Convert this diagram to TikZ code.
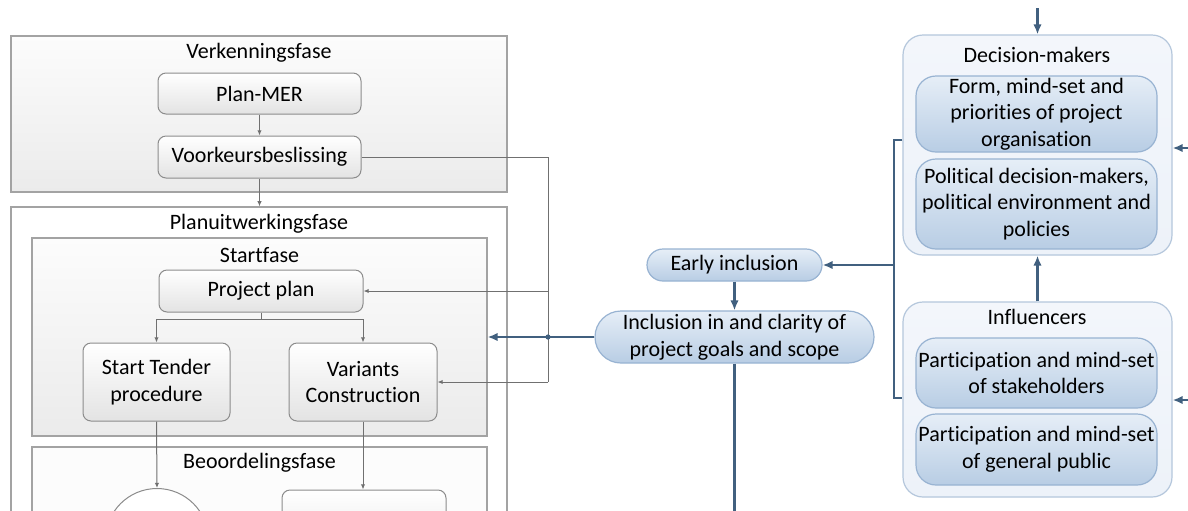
\documentclass[tikz,border=0pt]{standalone}
\usepackage{fontspec}
\setmainfont{Carlito}[Ligatures=NoCommon]
\usetikzlibrary{arrows.meta}

\definecolor{thinline}{HTML}{707070}
\definecolor{phaseborder}{HTML}{A3A3A3}
\definecolor{boxborder}{HTML}{8C8C8C}
\definecolor{boxbottom}{HTML}{E3E3E3}
\definecolor{phasetop}{HTML}{FCFCFC}
\definecolor{phasebottom}{HTML}{EBEBEB}
\definecolor{darkblue}{HTML}{41607F}
\definecolor{blueborder}{HTML}{98B3D2}
\definecolor{bluetop}{HTML}{E6EEF7}
\definecolor{bluebottom}{HTML}{B8CDE4}
\definecolor{groupborder}{HTML}{B5C7DC}
\definecolor{groupfill}{HTML}{EDF2F9}
\definecolor{grouptop}{HTML}{F3F6FB}

\begin{document}
\begin{tikzpicture}[x=0.5pt,y=-0.5pt,
  font=\fontsize{11}{13.3}\selectfont,
  phase/.style={rectangle, draw=phaseborder, line width=0.6pt, inner sep=0pt,
    top color=phasetop, bottom color=phasebottom},
  graybox/.style={rectangle, draw=boxborder, line width=0.5pt, rounded corners=4pt,
    inner sep=0pt, align=center, top color=white, bottom color=boxbottom},
  label/.style={inner sep=0pt, align=center},
  bluebox/.style={rectangle, draw=blueborder, line width=0.6pt, inner sep=0pt,
    align=center, top color=bluetop, bottom color=bluebottom},
  group/.style={rectangle, draw=groupborder, line width=0.6pt, rounded corners=10pt,
    inner sep=0pt, top color=grouptop, bottom color=groupfill},
  thinarrow/.style={draw=thinline, line width=0.5pt, -{Latex[length=2.6pt,width=2.2pt]}},
  thinstroke/.style={draw=thinline, line width=0.5pt},
  thickarrow/.style={draw=darkblue, line width=1.1pt, -{Latex[length=5pt,width=4.2pt]}},
  thickstroke/.style={draw=darkblue, line width=1.1pt},
]
\useasboundingbox (0,0) rectangle (1188,510);
\clip (0,0) rectangle (1188,510);
\fill[white] (0,0) rectangle (1188,510);

% ---------- process phases (left) ----------
\node[phase, minimum width=248pt, minimum height=78pt] (verk) at (259,114) {};
\node[label] (verkT) at (259,53) {Verkenningsfase};
\node[graybox, minimum width=101.5pt, minimum height=20.5pt] (planmer) at (259.5,93.5) {Plan-MER};
\node[graybox, minimum width=101.5pt, minimum height=21pt] (voork) at (259.5,157) {Voorkeursbeslissing};

\node[phase, minimum width=248pt, minimum height=196.5pt,
      top color=white, bottom color=white] (planuit) at (259,403.5) {};
\node[label] (planuitT) at (259,224) {Planuitwerkingsfase};

\node[phase, minimum width=227.5pt, minimum height=99pt] (start) at (259.5,337) {};
\node[label] (startT) at (259.5,255) {Startfase};
\node[graybox, minimum width=102pt, minimum height=21pt] (pplan) at (261,291) {Project plan};
\node[graybox, minimum width=73.5pt, minimum height=39pt] (tender) at (156.5,382) {Start Tender\\procedure};
\node[graybox, minimum width=74pt, minimum height=39pt] (variants) at (363,382) {Variants\\Construction};

\node[phase, minimum width=227.5pt, minimum height=76.5pt,
      top color=phasetop, bottom color=phasetop] (beoord) at (259.5,523.5) {};
\node[label] (beoordT) at (259.5,463) {Beoordelingsfase};
\node[circle, draw=boxborder, line width=0.5pt, fill=white, minimum size=51.5pt, inner sep=0pt] (evalc) at (157,540) {};
\node[graybox, minimum width=82pt, minimum height=40pt] (evalb) at (364,530) {};

% ---------- flow inside the phases ----------
\draw[thinarrow] (planmer) -- (voork);
\draw[thinarrow] (voork.south) -- (planuit.north -| voork.south);
\coordinate (vbus) at (548,157);
\draw[thinstroke] (voork.east) -- (vbus) -- (vbus |- variants.east);
\draw[thinarrow] (vbus |- pplan.east) -- (pplan.east);
\draw[thinarrow] (vbus |- variants.east) -- (variants.east);
\draw[thinstroke] (pplan.south) -- ++(0,7) coordinate (split);
\draw[thinarrow] (split) -| (tender.north);
\draw[thinarrow] (split) -| (variants.north);
\draw[thinarrow] (tender.south) -- (evalc.north);
\draw[thinarrow] (variants.south) -- (evalb.north -| variants.south);

% ---------- factors (middle) ----------
\node[bluebox, rounded corners=8pt, minimum width=87.5pt, minimum height=16pt] (early) at (734.5,265) {Early inclusion};
\node[bluebox, rounded corners=13pt, minimum width=139.5pt, minimum height=26pt] (incl) at (734.5,337) {Inclusion in and clarity of\\project goals and scope};

% ---------- actor groups (right) ----------
\node[group, minimum width=134.5pt, minimum height=110pt] (dm) at (1037.5,145) {};
\node[label] (dmT) at (1037,55) {Decision-makers};
\node[bluebox, rounded corners=10pt, minimum width=120.5pt, minimum height=38pt] (dm1) at (1036.5,114)
  {Form, mind-set and\\priorities of project\\organisation};
\node[bluebox, rounded corners=10pt, minimum width=120.5pt, minimum height=45pt] (dm2) at (1036.5,204)
  {Political decision-makers,\\political environment and\\policies};

\node[group, minimum width=134.5pt, minimum height=97.5pt] (infl) at (1037.5,399.5) {};
\node[label] (inflT) at (1037,317) {Influencers};
\node[bluebox, rounded corners=10pt, minimum width=120.5pt, minimum height=35pt] (infl1) at (1036.5,373)
  {Participation and mind-set\\of stakeholders};
\node[bluebox, rounded corners=10pt, minimum width=120.5pt, minimum height=35.5pt] (infl2) at (1036.5,449.5)
  {Participation and mind-set\\of general public};

% ---------- connectors between factors and groups ----------
\coordinate (busTop) at (894,140);
\coordinate (busBot) at (894,398);
\draw[thickstroke] (dm.west |- busTop) -- (busTop) -- (busBot) -- (infl.west |- busBot);
\draw[thickarrow] (early.east -| busTop) -- (early.east);
\draw[thickarrow] (early.south) -- (incl.north);
\draw[thickarrow] (incl.west) -- (start.east);
\fill[darkblue] (vbus |- incl.west) circle (1.3pt);
\coordinate (outDown) at (734.5,520);
\draw[thickstroke] (incl.south) -- (outDown);

\coordinate (topIn) at (1037.5,8);
\draw[thickarrow] (topIn) -- (dm.north);
\draw[thickarrow] (infl.north) -- (dm.south);
\coordinate (rightIn1) at (1188,148);
\coordinate (rightIn2) at (1188,400);
\draw[thickarrow] (rightIn1) -- (rightIn1 -| dm.east);
\draw[thickarrow] (rightIn2) -- (rightIn2 -| infl.east);
\end{tikzpicture}
\end{document}
